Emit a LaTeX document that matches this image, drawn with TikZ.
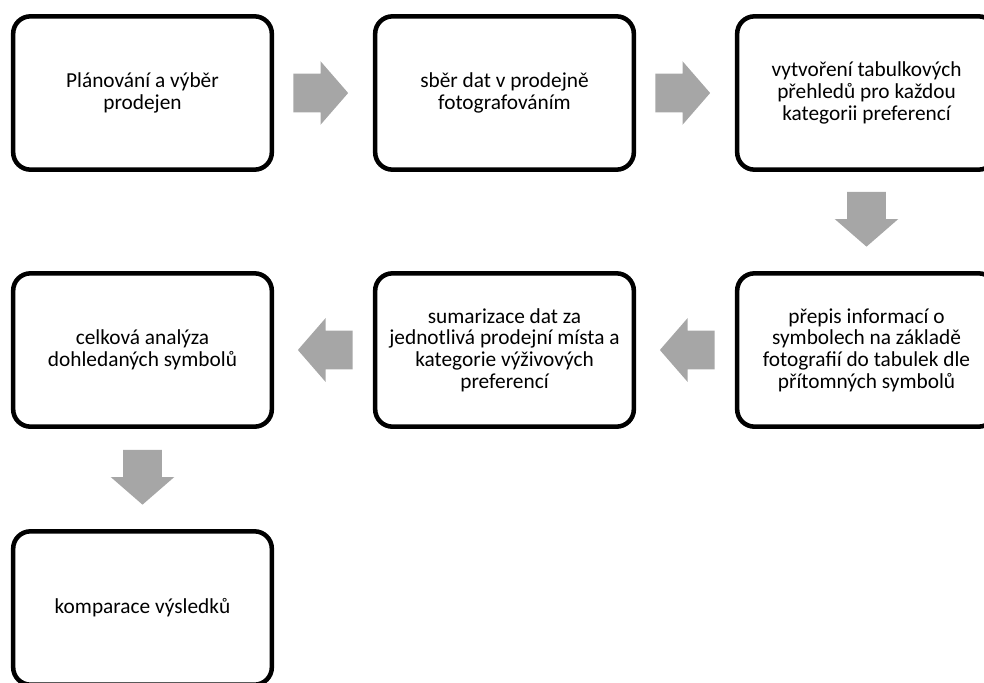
\documentclass[tikz,border=0pt]{standalone}
\usepackage{fontspec}
\setmainfont{Carlito}
\usepackage{xcolor}
\usetikzlibrary{shapes.arrows, calc}
\definecolor{arrowgray}{RGB}{166,166,166}
\tikzset{
	% krok postupu
	stepbox/.style={
		draw,
		line width=3.4pt,
		rounded corners=13pt,
		minimum width=194pt,
		minimum height=115pt,
		inner sep=0pt,
		align=center,
		font=\fontsize{16}{16.3}\selectfont
	}, %
	% sipka
	flowarrow/.style={
		single arrow,
		draw=none,
		fill=arrowgray,
		anchor=tip,
		inner xsep=0pt,
		inner ysep=14.25pt,
		minimum height=41pt,
		single arrow head extend=9.4pt,
		single arrow tip angle=98
	} %
}

\begin{document}
\begin{tikzpicture}[x=0.75pt, y=-0.75pt]
			\useasboundingbox (0,0) rectangle (984,682);
			
			% prvni rada
			\node[stepbox] (plan) at (142.5,93) {Plánování a výběr\\prodejen};
			\node[stepbox] (sber) at (504.5,93) {sběr dat v prodejně\\fotografováním};
			\node[stepbox] (tab) at (866.5,93) {vytvoření tabulkových\\přehledů pro každou\\kategorii preferencí};
			
			% druha rada
			\node[stepbox] (prepis) at (866.5,350) {přepis informací o\\symbolech na základě\\fotografií do tabulek dle\\přítomných symbolů};
			\node[stepbox] (sum) at (504.5,350) {sumarizace dat za\\jednotlivá prodejní místa a\\kategorie výživových\\preferencí};
			\node[stepbox] (anal) at (142.5,350) {celková analýza\\dohledaných symbolů};
			
			% treti rada
			\node[stepbox] (komp) at (142.5,608) {komparace výsledků};
			
			% sipky (hrot)
			\node[flowarrow] (a1) at ($(plan.east)!0.5!(sber.west)+(25,0)$) {};
			\node[flowarrow] (a2) at ($(sber.east)!0.5!(tab.west)+(25,0)$) {};
			\node[flowarrow, rotate=-90] (a3) at ($(tab.south)!0.5!(prepis.north)+(0,25.5)$) {};
			\node[flowarrow, rotate=180] (a4) at ($(prepis.west)!0.5!(sum.east)+(-26,0)$) {};
			\node[flowarrow, rotate=180] (a5) at ($(sum.west)!0.5!(anal.east)+(-26,0)$) {};
			\node[flowarrow, rotate=-90] (a6) at ($(anal.south)!0.5!(komp.north)+(0,26)$) {};
		\end{tikzpicture}
\end{document}
